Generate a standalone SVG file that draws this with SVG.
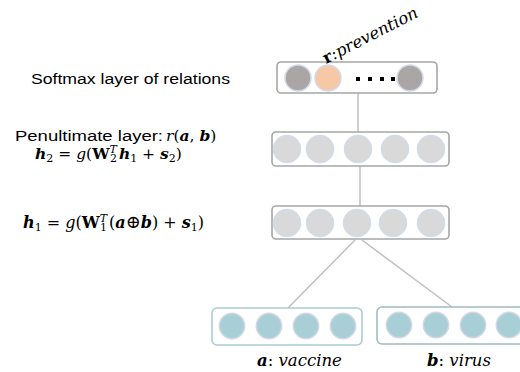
<svg xmlns="http://www.w3.org/2000/svg" width="520" height="372" viewBox="0 0 520 372">
<style>
.box{fill:#fff;stroke:#a6a6a6;stroke-width:1.6}
.boxb{fill:#fff;stroke:#a9cdd4;stroke-width:1.6}
.boxb2{fill:#fff;stroke:#9fbcc2;stroke-width:1.6}
.cg{fill:#aaa6a6;stroke:#d2dbea;stroke-width:1.5}
.cp{fill:#f7c8a6;stroke:#d2dbea;stroke-width:1.5}
.cl{fill:#d9d9d9;stroke:#d2dbea;stroke-width:1.5}
.ct{fill:#a9cfd6;stroke:#d2d8e6;stroke-width:1.5}
.ln{stroke:#bfbfbf;stroke-width:1.5;fill:none}
.sans{font-family:"Liberation Sans",Arial,sans-serif;font-size:15.5px;fill:#000}
.m{font-family:"DejaVu Serif","Liberation Serif",serif;font-size:15.5px;fill:#000}
.m2{font-size:16px}
.ml{font-family:"DejaVu Serif","Liberation Serif",serif;font-size:16.5px;fill:#000}
.bi{font-weight:bold;font-style:italic}
.i{font-style:italic}
.b{font-weight:bold}
.sub{font-size:11px}
.op{font-size:18px}
</style>
<g id="connectors">
<line class="ln" x1="358" y1="93" x2="358" y2="132"/>
<line class="ln" x1="360" y1="166" x2="360" y2="206"/>
<line class="ln" x1="355" y1="240" x2="288" y2="308"/>
<line class="ln" x1="362" y1="240" x2="452" y2="307"/>
</g>
<g id="softmax-layer">
<rect class="box" x="277" y="62" width="160" height="31" rx="4"/>
<circle class="cg" cx="298" cy="78" r="13"/>
<circle class="cp" cx="328" cy="78" r="13"/>
<circle class="cg" cx="410" cy="78" r="13"/>
<rect x="356" y="77" width="4" height="4" fill="#000"/>
<rect x="368" y="77" width="4" height="4" fill="#000"/>
<rect x="380" y="77" width="4" height="4" fill="#000"/>
<rect x="391" y="77" width="4" height="4" fill="#000"/>
</g>
<g id="penultimate-layer">
<rect class="box" x="272" y="132" width="177" height="34" rx="4"/>
<circle class="cl" cx="287" cy="149" r="13.5"/>
<circle class="cl" cx="320" cy="149" r="13.5"/>
<circle class="cl" cx="358" cy="149" r="13.5"/>
<circle class="cl" cx="395" cy="149" r="13.5"/>
<circle class="cl" cx="431" cy="149" r="13.5"/>
</g>
<g id="hidden-layer">
<rect class="box" x="272" y="206" width="177" height="33" rx="4"/>
<circle class="cl" cx="287" cy="223" r="13.5"/>
<circle class="cl" cx="320" cy="223" r="13.5"/>
<circle class="cl" cx="357" cy="223" r="13.5"/>
<circle class="cl" cx="393" cy="223" r="13.5"/>
<circle class="cl" cx="431" cy="223" r="13.5"/>
</g>
<g id="input-a">
<rect class="boxb" x="212" y="308" width="150" height="37" rx="5"/>
<circle class="ct" cx="232" cy="326" r="12.7"/>
<circle class="ct" cx="269" cy="326" r="12.7"/>
<circle class="ct" cx="306" cy="326" r="12.7"/>
<circle class="ct" cx="343" cy="326" r="12.7"/>
</g>
<g id="input-b">
<rect class="boxb2" x="377" y="307" width="160" height="37" rx="5"/>
<circle class="ct" cx="399" cy="325" r="12.7"/>
<circle class="ct" cx="436" cy="325" r="12.7"/>
<circle class="ct" cx="473" cy="325" r="12.7"/>
<circle class="ct" cx="509" cy="325" r="12.7"/>
</g>
<g id="labels">
<text class="sans" x="31" y="84" textLength="199" lengthAdjust="spacingAndGlyphs">Softmax layer of relations</text>
<text class="sans" x="15" y="141" textLength="148" lengthAdjust="spacingAndGlyphs">Penultimate layer:</text>
<text class="m" x="166" y="141"><tspan class="i">r</tspan>(<tspan class="bi">a</tspan>, <tspan class="bi">b</tspan>)</text>
<text class="m" x="35" y="159"><tspan class="bi">h</tspan><tspan class="sub" dy="3">2</tspan><tspan dy="-3"> = </tspan><tspan class="i">g</tspan>(<tspan class="b">W</tspan><tspan class="sub i" dy="-6">T</tspan><tspan class="sub" dx="-7" dy="9">2</tspan><tspan dy="-3" dx="2" class="bi">h</tspan><tspan class="sub" dy="3">1</tspan><tspan dy="-3"> + </tspan><tspan class="bi">s</tspan><tspan class="sub" dy="3">2</tspan><tspan dy="-3">)</tspan></text>
<text class="m m2" x="23" y="228"><tspan class="bi">h</tspan><tspan class="sub" dy="3">1</tspan><tspan dy="-3"> = </tspan><tspan class="i">g</tspan>(<tspan class="b">W</tspan><tspan class="sub i" dy="-6">T</tspan><tspan class="sub" dx="-7" dy="9">1</tspan><tspan dy="-3" dx="2">(</tspan><tspan class="bi">a</tspan><tspan class="op">⊕</tspan><tspan class="bi">b</tspan>) + <tspan class="bi">s</tspan><tspan class="sub" dy="3">1</tspan><tspan dy="-3">)</tspan></text>
<text class="ml" x="257" y="366"><tspan class="bi">a</tspan>: <tspan class="i">vaccine</tspan></text>
<text class="ml" x="427" y="366"><tspan class="bi">b</tspan>: <tspan class="i">virus</tspan></text>
<text class="ml" transform="translate(326,64) rotate(-27)"><tspan class="b">r</tspan><tspan class="i">:prevention</tspan></text>
</g>
</svg>
